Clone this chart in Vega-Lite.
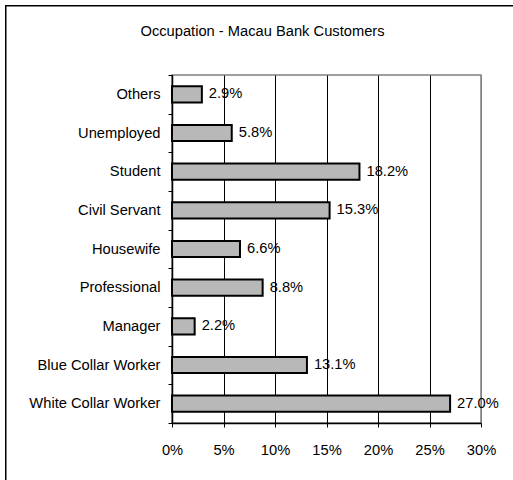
{
  "$schema": "https://vega.github.io/schema/vega-lite/v6.json",
  "autosize": "none",
  "width": 309,
  "height": 348,
  "padding": {"left": 172, "top": 75, "right": 32, "bottom": 57},
  "background": "white",
  "title": {
    "text": "Occupation - Macau Bank Customers",
    "anchor": "middle",
    "frame": "group",
    "baseline": "alphabetic",
    "offset": -46,
    "dx": -64,
    "fontSize": 14.7,
    "fontWeight": "normal",
    "font": "Liberation Sans",
    "color": "black"
  },
  "config": {
    "font": "Liberation Sans",
    "view": {"stroke": "#808080", "strokeWidth": 1.5}
  },
  "layer": [
    {
      "data": {
        "values": [
          {"occupation": "Others", "share": 0.029},
          {"occupation": "Unemployed", "share": 0.058},
          {"occupation": "Student", "share": 0.182},
          {"occupation": "Civil Servant", "share": 0.153},
          {"occupation": "Housewife", "share": 0.066},
          {"occupation": "Professional", "share": 0.088},
          {"occupation": "Manager", "share": 0.022},
          {"occupation": "Blue Collar Worker", "share": 0.131},
          {"occupation": "White Collar Worker", "share": 0.27}
        ]
      },
      "encoding": {
        "y": {
          "field": "occupation",
          "type": "nominal",
          "sort": null,
          "title": null,
          "scale": {"paddingInner": 0, "paddingOuter": 0},
          "axis": {
            "tickBand": "extent",
            "domainColor": "black",
            "domainWidth": 1.5,
            "tickColor": "black",
            "tickSize": 4,
            "tickWidth": 1,
            "labelFontSize": 14.7,
            "labelColor": "black",
            "labelPadding": 8,
            "labelFont": "Liberation Sans"
          }
        },
        "x": {
          "field": "share",
          "type": "quantitative",
          "title": null,
          "scale": {"domain": [0, 0.3], "nice": false},
          "axis": {
            "format": ".0%",
            "values": [0, 0.05, 0.1, 0.15, 0.2, 0.25, 0.3],
            "grid": true,
            "gridColor": {"condition": {"test": "datum.value >= 0.3", "value": "#808080"}, "value": "black"},
            "gridWidth": 1,
            "domainColor": "black",
            "domainWidth": 1.5,
            "tickColor": "black",
            "tickSize": 4,
            "labelFontSize": 14.7,
            "labelColor": "black",
            "labelPadding": 15,
            "labelFlush": false,
            "labelFont": "Liberation Sans"
          }
        }
      },
      "layer": [
        {
          "mark": {
            "type": "bar",
            "fill": "#b8b8b8",
            "stroke": "black",
            "strokeWidth": 2,
            "height": {"band": 0.42}
          }
        },
        {
          "mark": {
            "type": "text",
            "align": "left",
            "baseline": "middle",
            "dx": 7,
            "fontSize": 14.7,
            "font": "Liberation Sans",
            "color": "black"
          },
          "encoding": {
            "text": {"field": "share", "type": "quantitative", "format": ".1%"}
          }
        }
      ]
    },
    {
      "data": {"values": [{}]},
      "mark": {"type": "rect", "filled": false, "stroke": "black", "strokeWidth": 1.5},
      "encoding": {
        "x": {"datum": -0.1614, "type": "quantitative"},
        "x2": {"datum": 0.45},
        "y": {"datum": 1.199, "type": "quantitative", "scale": {"domain": [0, 1], "nice": false}, "axis": null},
        "y2": {"datum": -0.4}
      }
    }
  ],
  "resolve": {"scale": {"y": "independent"}, "axis": {"y": "independent"}}
}
